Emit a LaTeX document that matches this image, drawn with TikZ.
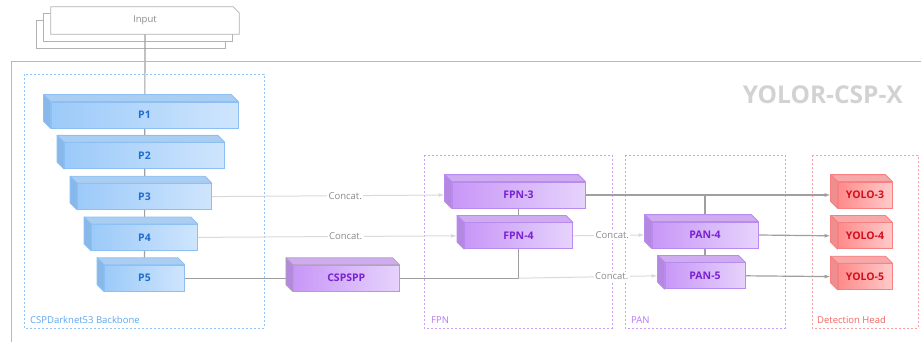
\documentclass[tikz,border=0pt]{standalone}
\usepackage{fontspec}
\setmainfont{Open Sans}
\usetikzlibrary{positioning}
\usetikzlibrary{arrows.meta}
\usetikzlibrary{backgrounds}

% backbone (blue), neck (purple), head (red)
\definecolor{bbleft}{HTML}{9CCAF9}
\definecolor{bbright}{HTML}{CFE5FD}
\definecolor{bbline}{HTML}{8CC0F5}
\definecolor{bbside}{HTML}{88B7EA}
\definecolor{bbtop}{HTML}{AACDF2}
\definecolor{bbtext}{HTML}{1F6FCF}
\definecolor{bbgroup}{HTML}{8EC4F7}
\definecolor{bblabel}{HTML}{5AA7F0}
\definecolor{nkleft}{HTML}{C897F7}
\definecolor{nkright}{HTML}{E6D3FC}
\definecolor{nkline}{HTML}{B98AF0}
\definecolor{nkside}{HTML}{B488E0}
\definecolor{nktop}{HTML}{CFABF0}
\definecolor{nktext}{HTML}{7A22D0}
\definecolor{nkgroup}{HTML}{CC9EF7}
\definecolor{nklabel}{HTML}{B475F2}
\definecolor{spline}{HTML}{AFA3B8}
\definecolor{spside}{HTML}{B488E0}
\definecolor{sptop}{HTML}{CFABF0}
\definecolor{hdleft}{HTML}{FF8A8A}
\definecolor{hdright}{HTML}{FFCACA}
\definecolor{hdline}{HTML}{F98080}
\definecolor{hdside}{HTML}{EE8E8E}
\definecolor{hdtop}{HTML}{F7A9A9}
\definecolor{hdtext}{HTML}{D0101C}
\definecolor{hdgroup}{HTML}{F7A0A0}
\definecolor{hdlabel}{HTML}{F06464}

\begin{document}
\begin{tikzpicture}[x=1pt, y=-1pt, font=\fontsize{9.5}{11}\selectfont]

        \tikzstyle{layer} = [rectangle, minimum height=26pt, inner sep=0pt, line width=0.8pt,
            font=\fontsize{10.5}{12}\selectfont\bfseries]
        \tikzstyle{bonebox} = [layer, draw=bbline, left color=bbleft, right color=bbright, text=bbtext]
        \tikzstyle{neckbox} = [layer, draw=nkline, left color=nkleft, right color=nkright, text=nktext]
        \tikzstyle{headbox} = [layer, draw=hdline, left color=hdleft, right color=hdright, text=hdtext]
        \tikzstyle{group} = [line width=0.7pt, dash pattern=on 2pt off 2pt]
        \tikzstyle{grouplabel} = [anchor=west, inner sep=0pt]
        \tikzstyle{trunk} = [draw=gray!75, line width=1.2pt]
        \tikzstyle{skip} = [draw=gray!30, line width=1pt]
        \tikzstyle{arr} = [-{Latex[length=6pt,width=4pt]}]
        \tikzstyle{concat} = [fill=white, text=gray!90, inner sep=1.5pt]
        \tikzstyle{page} = [draw=gray!60, fill=white, line width=0.8pt]

        \useasboundingbox (0,0) rectangle (921,342);

        % outer frame
        \draw[gray!55, line width=0.8pt] (921,61) -- (11,61) -- (11,342);

        \node[minimum width=188pt, minimum height=27pt, inner sep=0pt, text=gray!90] (input) at (145,20.5) {Input};
        \node[anchor=east, inner sep=0pt, text=gray!35, font=\fontsize{24.5}{28}\selectfont\bfseries] (title) at (903,95) {YOLOR-CSP-X};

        % backbone
        \node[bonebox, minimum width=187pt]              (p1)     at (144.5,115) {P1};
        \node[bonebox, minimum width=160pt, below=14pt of p1] (p2) {P2};
        \node[bonebox, minimum width=134pt, below=14pt of p2] (p3) {P3};
        \node[bonebox, minimum width=106pt, below=14pt of p3] (p4) {P4};
        \node[bonebox, minimum width=80pt,  below=14pt of p4] (p5) {P5};
        \node[neckbox, draw=spline, minimum width=106pt, right=108pt of p5] (cspspp) {CSPSPP};

        % neck
        \node[neckbox, minimum width=133pt]              (fpn3)   at (518.5,195) {FPN-3};
        \node[neckbox, minimum width=108pt, below=14pt of fpn3] (fpn4) {FPN-4};
        \node[neckbox, minimum width=106pt]              (pan4)   at (705,235) {PAN-4};
        \node[neckbox, minimum width=80pt,  below=14pt of pan4] (pan5) {PAN-5};

        % heads
        \node[headbox, minimum width=54pt]               (yolo3)  at (865,195) {YOLO-3};
        \node[headbox, minimum width=54pt, below=14pt of yolo3] (yolo4) {YOLO-4};
        \node[headbox, minimum width=54pt, below=14pt of yolo4] (yolo5) {YOLO-5};

        % top and side faces
        \foreach \n/\c in {p1/bb, p2/bb, p3/bb, p4/bb, p5/bb, cspspp/sp, fpn3/nk, fpn4/nk,
                           pan4/nk, pan5/nk, yolo3/hd, yolo4/hd, yolo5/hd} {
            \filldraw[fill=\c top, draw=\c line, line width=0.8pt, line join=round]
                (\n.north west) -- ++(-7pt,7pt) -- ([shift={(-7pt,7pt)}]\n.north east) -- (\n.north east) -- cycle;
            \filldraw[fill=\c side, draw=\c line, line width=0.8pt, line join=round]
                (\n.north west) -- ++(-7pt,7pt) -- ([shift={(-7pt,7pt)}]\n.south west) -- (\n.south west) -- cycle;
        }

        \node[grouplabel, text=bblabel] (bonelabel) at (30,320)  {CSPDarknet53 Backbone};
        \node[grouplabel, text=nklabel] (fpnlabel)  at (431,320) {FPN};
        \node[grouplabel, text=nklabel] (panlabel)  at (631,320) {PAN};
        \node[grouplabel, text=hdlabel] (headlabel) at (817,320) {Detection Head};

        \coordinate (fpnjoin) at (fpn4 |- cspspp);
        \coordinate (panjoin) at (pan4 |- fpn3);

        \begin{scope}[on background layer]
            \draw[group, draw=bbgroup] (24,74) rectangle (264,328);
            \draw[group, draw=nkgroup] (424,155) rectangle (612,328);
            \draw[group, draw=nkgroup] (625,155) rectangle (785,328);
            \draw[group, draw=hdgroup] (812,155) rectangle (918,328);

            \draw[page] ([shift={(-14pt,-14pt)}]input.north west) rectangle ([shift={(-14pt,-14pt)}]input.south east);
            \draw[page] ([shift={(-7pt,-7pt)}]input.north west) rectangle ([shift={(-7pt,-7pt)}]input.south east);

            \draw[trunk] (input) -- (p5);
            \draw[skip, arr] (p3.east) -- node[concat, pos=0.573] {Concat.} ([xshift=-7pt]fpn3.west);
            \draw[skip, arr] (p4.east) -- node[concat, pos=0.57]  {Concat.} ([xshift=-7pt]fpn4.west);
            \draw[trunk] (p5) -- (cspspp);
            \draw[trunk] (cspspp) -| (fpn4);
            \draw[trunk] (fpn3) -- (fpn4);
            \draw[skip, arr] (fpn4.east) -- node[concat, pos=0.55] {Concat.} ([xshift=-7pt]pan4.west);
            \draw[skip, arr] (fpnjoin)   -- node[concat, pos=0.67] {Concat.} ([xshift=-7pt]pan5.west);
            \draw[trunk] (panjoin) -- (pan5);
            \draw[trunk, arr] (fpn3.east) -- ([xshift=-7pt]yolo3.west);
            \draw[trunk, arr] (pan4.east) -- ([xshift=-7pt]yolo4.west);
            \draw[trunk, arr] (pan5.east) -- ([xshift=-7pt]yolo5.west);

            \draw[page] (input.north west) -- ([xshift=-6pt]input.north east) -- ([yshift=-6pt]input.north east)
                -- (input.south east) -- (input.south west) -- cycle;
        \end{scope}

      \end{tikzpicture}
\end{document}
